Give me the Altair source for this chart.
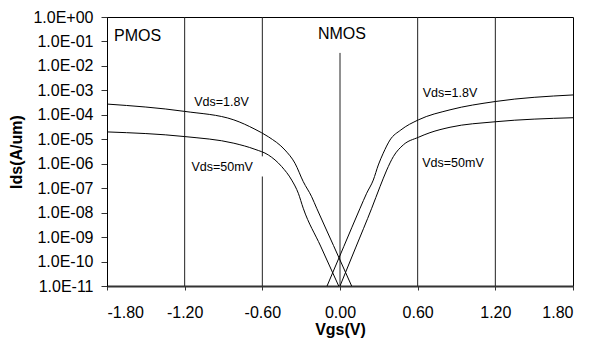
import altair as alt
import pandas as pd

# PMOS, Vds = 1.8 V
vgs_p18 = [-1.8, -1.2, -0.82, -0.657, -0.554, -0.425, -0.348, -0.284, -0.219, -0.18, -0.05, 0.09]
ids_p18 = [2.75e-4, 1.38e-4, 6.2e-5, 2.57e-5, 1.27e-5, 3.63e-6, 1.05e-6, 1.86e-7, 4.47e-8, 1.51e-8, 4.5e-10, 1e-11]
# PMOS, Vds = 50 mV
vgs_p50 = [-1.8, -1.2, -0.82, -0.657, -0.554, -0.45, -0.373, -0.322, -0.284, -0.15, -0.01]
ids_p50 = [2.0e-5, 1.29e-5, 6.9e-6, 3.89e-6, 2.29e-6, 7.6e-7, 2.14e-7, 6.2e-8, 1.51e-8, 4.3e-10, 1e-11]
# NMOS, Vds = 1.8 V
vgs_n18 = [-0.10, 0.03, 0.155, 0.206, 0.257, 0.296, 0.334, 0.386, 0.47, 0.605, 0.85, 1.2, 1.8]
ids_n18 = [1e-11, 4.2e-10, 1.51e-8, 6.2e-8, 2.14e-7, 8.9e-7, 2.69e-6, 9.3e-6, 2.4e-5, 6.2e-5, 1.6e-4, 3.5e-4, 6.5e-4]
# NMOS, Vds = 50 mV
vgs_n50 = [0.0, 0.12, 0.245, 0.309, 0.361, 0.412, 0.489, 0.605, 0.695, 0.85, 1.2, 1.8]
ids_n50 = [1e-11, 3.6e-10, 1.51e-8, 1.15e-7, 5.5e-7, 1.95e-6, 5.9e-6, 1.2e-5, 1.86e-5, 3.1e-5, 5.2e-5, 7.6e-5]

x_ticks = [-1.8, -1.2, -0.6, 0.0, 0.6, 1.2, 1.8]
y_ticks = [1e-11, 1e-10, 1e-9, 1e-8, 1e-7, 1e-6, 1e-5, 1e-4, 1e-3, 1e-2, 1e-1, 1e0]

# vertical grid segments (gaps where label boxes sit in the original)
grid_x = [-1.2, -0.6, -0.6, 0.0, 0.6, 1.2]
grid_lo = [1e-11, 1e-11, 2.0e-6, 1e-11, 1e-11, 1e-11]
grid_hi = [1e0, 3.0e-7, 1e0, 3.4e-2, 1e0, 1e0]

big_text = ["PMOS", "NMOS"]
big_x = [-1.745, 0.015]
big_y = [1.75e-1, 2.1e-1]

small_text = ["Vds=1.8V", "Vds=50mV", "Vds=1.8V", "Vds=50mV"]
small_x = [-0.915, -0.91, 0.85, 0.873]
small_y = [3.2e-4, 7.1e-7, 7.6e-4, 1.05e-6]

rows = []
for name, xs, ys in [("p18", vgs_p18, ids_p18), ("p50", vgs_p50, ids_p50),
                     ("n18", vgs_n18, ids_n18), ("n50", vgs_n50, ids_n50)]:
    for i, (a, b) in enumerate(zip(xs, ys)):
        rows.append({"series": name, "vgs": a, "ids": b, "order": i})
curves = pd.DataFrame(rows)

grid = pd.DataFrame({"x": grid_x, "lo": grid_lo, "hi": grid_hi})
big = pd.DataFrame({"x": big_x, "y": big_y, "t": big_text})
small = pd.DataFrame({"x": small_x, "y": small_y, "t": small_text})

FONT = "Liberation Sans"

xscale = alt.Scale(domain=[-1.8, 1.8], nice=False, zero=False)
yscale = alt.Scale(type="log", domain=[1e-11, 1e0], nice=False)

exp = "round(log(datum.value)/LN10)"
ylabel = ("'1.0E' + (" + exp + " >= 0 ? '+' : '-') + (abs(" + exp + ") < 10 ? '0' : '') + abs(" + exp + ")")

xaxis = alt.Axis(values=x_ticks, labelExpr="replace(format(datum.value, '.2f'), '\u2212', '-')",
                 title="Vgs(V)", grid=False, tickSize=4, labelPadding=14,
                 domainWidth=2, domainColor="#333333", tickColor="#333333",
                 titlePadding=1, titleFontSize=16, titleFontWeight="bold")
yaxis = alt.Axis(values=y_ticks, labelExpr=ylabel, title="Ids(A/um)", grid=False,
                 tickSize=6, labelPadding=8, domainColor="#000000", tickColor="#333333",
                 titlePadding=8, titleFontSize=16, titleFontWeight="bold")

lines = alt.Chart(curves).mark_line(color="black", strokeWidth=1, clip=True,
                                    interpolate="monotone").encode(
    x=alt.X("vgs:Q", scale=xscale, axis=xaxis),
    y=alt.Y("ids:Q", scale=yscale, axis=yaxis),
    detail="series:N",
    order="order:Q",
)

grid_rules = alt.Chart(grid).mark_rule(color="#222222", strokeWidth=1).encode(
    x=alt.X("x:Q", scale=xscale),
    y=alt.Y("lo:Q", scale=yscale),
    y2="hi:Q",
)

pm = alt.Chart(big[big.t == "PMOS"]).mark_text(font=FONT, fontSize=16, color="black",
                                               baseline="middle", align="left").encode(
    x=alt.X("x:Q", scale=xscale), y=alt.Y("y:Q", scale=yscale), text="t:N")
nm = alt.Chart(big[big.t == "NMOS"]).mark_text(font=FONT, fontSize=16, color="black",
                                               baseline="middle", align="center").encode(
    x=alt.X("x:Q", scale=xscale), y=alt.Y("y:Q", scale=yscale), text="t:N")

small_labels = alt.Chart(small).mark_text(font=FONT, fontSize=12.5, color="black",
                                          baseline="middle", align="center").encode(
    x=alt.X("x:Q", scale=xscale), y=alt.Y("y:Q", scale=yscale), text="t:N")

chart = alt.layer(grid_rules, lines, pm, nm, small_labels).properties(
    width=466, height=269,
    autosize=alt.AutoSizeParams(type="none"),
    padding={"left": 99, "top": 9, "right": 11, "bottom": 52},
    background="white",
).configure_view(stroke="black", strokeWidth=1).configure_axis(
    labelFont=FONT, labelFontSize=16, labelColor="black",
    titleFont=FONT, titleColor="black",
)

chart.save("out.html", embed_options={"renderer": "svg", "actions": False})
